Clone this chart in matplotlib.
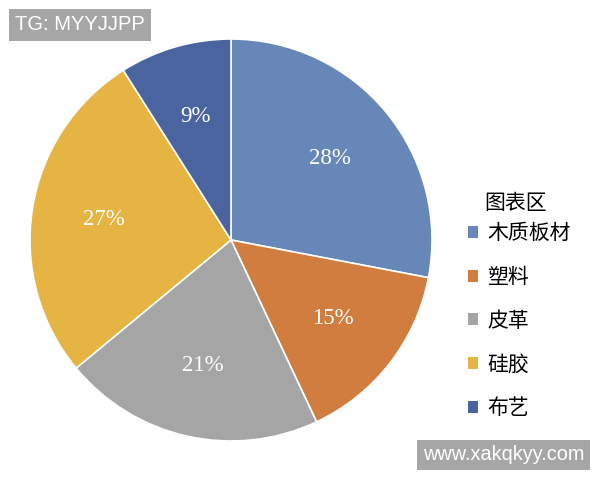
import matplotlib.pyplot as plt
from matplotlib.patches import Patch

plt.rcParams['font.family'] = ['Noto Sans CJK SC', 'DejaVu Sans']

labels = ['木质板材', '塑料', '皮革', '硅胶', '布艺']
shares = [28, 15, 21, 27, 9]
colors = ['#6787B8', '#D07D3F', '#A5A5A5', '#E5B443', '#4A64A0']

fig = plt.figure(figsize=(6, 4.8), dpi=100)
# pie centre ~ (231, 240) px, radius ~201 px
ax = fig.add_axes([30 / 600, 39 / 480, 402 / 600, 402 / 480])
wedges, texts, autotexts = ax.pie(
    shares, colors=colors, startangle=90, counterclock=False,
    autopct='%d%%', pctdistance=0.64,
    wedgeprops=dict(edgecolor='white', linewidth=1.2),
    textprops=dict(color='white', fontsize=16.5, family='Liberation Serif'))
ax.set_xlim(-1, 1)
ax.set_ylim(-1, 1)
ax.set_aspect('equal')

handles = [Patch(facecolor=c, edgecolor='none') for c in colors]
leg = fig.legend(handles, labels, title='图表区', loc='upper left',
                 bbox_to_anchor=(449 / 600, 1 - 160 / 480), frameon=False,
                 fontsize=15, title_fontsize=15, handlelength=0.5,
                 handleheight=0.5, handletextpad=0.45, labelspacing=1.04)
leg._legend_box.align = 'left'
# title sits a bit closer to the first entry and in line with the labels
leg.get_title().set_position((17, -13))

# watermarks
fig.text(15 / 600, 1 - 25 / 480, 'TG: MYYJJPP', color='white', fontsize=14.5,
         family='Liberation Sans', va='center', ha='left',
         bbox=dict(boxstyle='square,pad=0.3', facecolor='#A6A6A6', edgecolor='none'))
fig.text(423 / 600, 1 - 455 / 480, 'www.xakqkyy.com', color='white', fontsize=14.3,
         family='Liberation Sans', va='center', ha='left',
         bbox=dict(boxstyle='square,pad=0.3', facecolor='#A6A6A6', edgecolor='none'))

fig.savefig('out.png', dpi=100)
